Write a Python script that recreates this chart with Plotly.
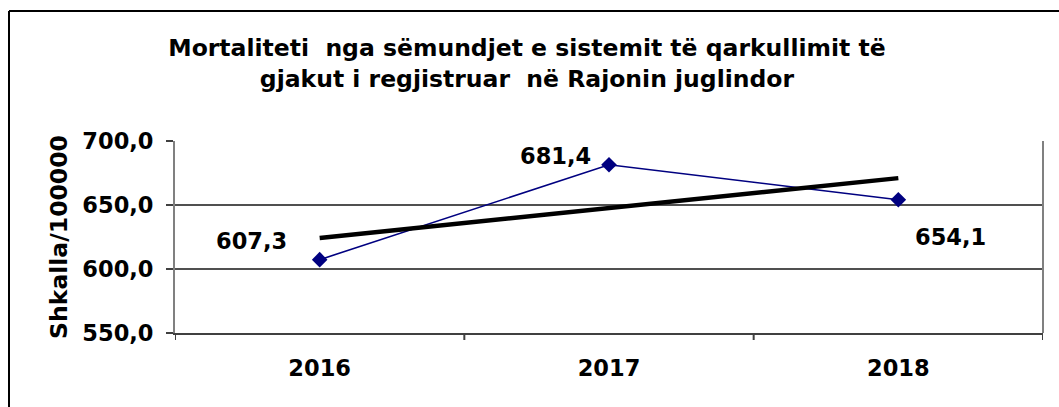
import numpy as np
import plotly.graph_objects as go

# Mortality rate per 100 000, south-east region
years = ["2016", "2017", "2018"]
rates = [607.3, 681.4, 654.1]
y_ticks = [550.0, 600.0, 650.0, 700.0]

W, H = 1059, 407
L, R, T, B = 175, 16, 141, 74
pw, ph = W - L - R, H - T - B

# Linear trend fitted through the yearly values
xi = np.arange(len(rates))
slope, icpt = np.polyfit(xi, rates, 1)
trend = [icpt + slope * i for i in xi]

FONT = "DejaVu Sans"
lab_font = dict(family=FONT, size=22.5, color="black", weight="bold")

fig = go.Figure()
fig.add_trace(go.Scatter(
    x=xi, y=rates, mode="lines+markers",
    line=dict(color="#000080", width=1.6),
    marker=dict(symbol="diamond", size=12, color="#000080"),
    hoverinfo="skip", showlegend=False,
))
fig.add_trace(go.Scatter(
    x=xi, y=trend, mode="lines",
    line=dict(color="black", width=4.5),
    hoverinfo="skip", showlegend=False,
))

# Value labels placed beside each point
offsets = [(-68, -19), (-54, -9), (52, 37)]
for i, v, (dx, dy) in zip(xi, rates, offsets):
    fig.add_annotation(
        x=int(i), y=v, xref="x", yref="y",
        text=f"{v:.1f}".replace(".", ","),
        showarrow=False, xshift=dx, yshift=-dy, font=lab_font,
    )

def px_x(p):
    return (p - L) / pw

def px_y(p):
    return (H - B - p) / ph

shapes = [
    # outer chart frame
    dict(type="line", xref="paper", yref="paper",
         x0=px_x(9), x1=px_x(9), y0=px_y(11), y1=px_y(420),
         line=dict(color="black", width=2)),
    dict(type="line", xref="paper", yref="paper",
         x0=px_x(9), x1=px_x(1070), y0=px_y(11), y1=px_y(11),
         line=dict(color="black", width=2)),
    # right edge of plot area
    dict(type="line", xref="paper", yref="paper",
         x0=1, x1=1, y0=0, y1=1, line=dict(color="#808080", width=2)),
]

fig.update_layout(
    width=W, height=H,
    margin=dict(l=L, r=R, t=T, b=B),
    paper_bgcolor="white", plot_bgcolor="white",
    separators=",.",
    shapes=shapes,
    title=dict(
        text="Mortaliteti  nga sëmundjet e sistemit të qarkullimit të<br>"
             "gjakut i regjistruar  në Rajonin juglindor",
        x=0.4976, xanchor="center", y=0.862, yanchor="top",
        font=dict(family=FONT, size=23.5, color="black", weight="bold"),
    ),
    xaxis=dict(
        range=[-0.5, 2.5], tickvals=list(xi), ticktext=years,
        showgrid=False, zeroline=False,
        showline=True, linecolor="#404040", linewidth=2,
        ticks="", ticklabelstandoff=14,
        tickfont=lab_font,
    ),
    yaxis=dict(
        range=[550, 700], tickvals=y_ticks, tickformat=".1f",
        showgrid=True, gridcolor="#505050", gridwidth=1.5,
        zeroline=False,
        showline=True, linecolor="#808080", linewidth=2, mirror=False,
        ticks="outside", ticklen=7, tickcolor="#404040", tickwidth=2,
        ticklabelstandoff=8,
        tickfont=lab_font,
        title=dict(text="Shkalla/100000", standoff=8,
                   font=dict(family=FONT, size=23.5, color="black",
                             weight="bold")),
    ),
)

# category boundary ticks under the x axis
for b in [-0.5, 0.5, 1.5, 2.5]:
    fig.add_shape(type="line", xref="x", yref="paper", x0=b, x1=b,
                  y0=0, y1=-7 / ph, line=dict(color="#404040", width=2))

fig.write_html("out.html")
